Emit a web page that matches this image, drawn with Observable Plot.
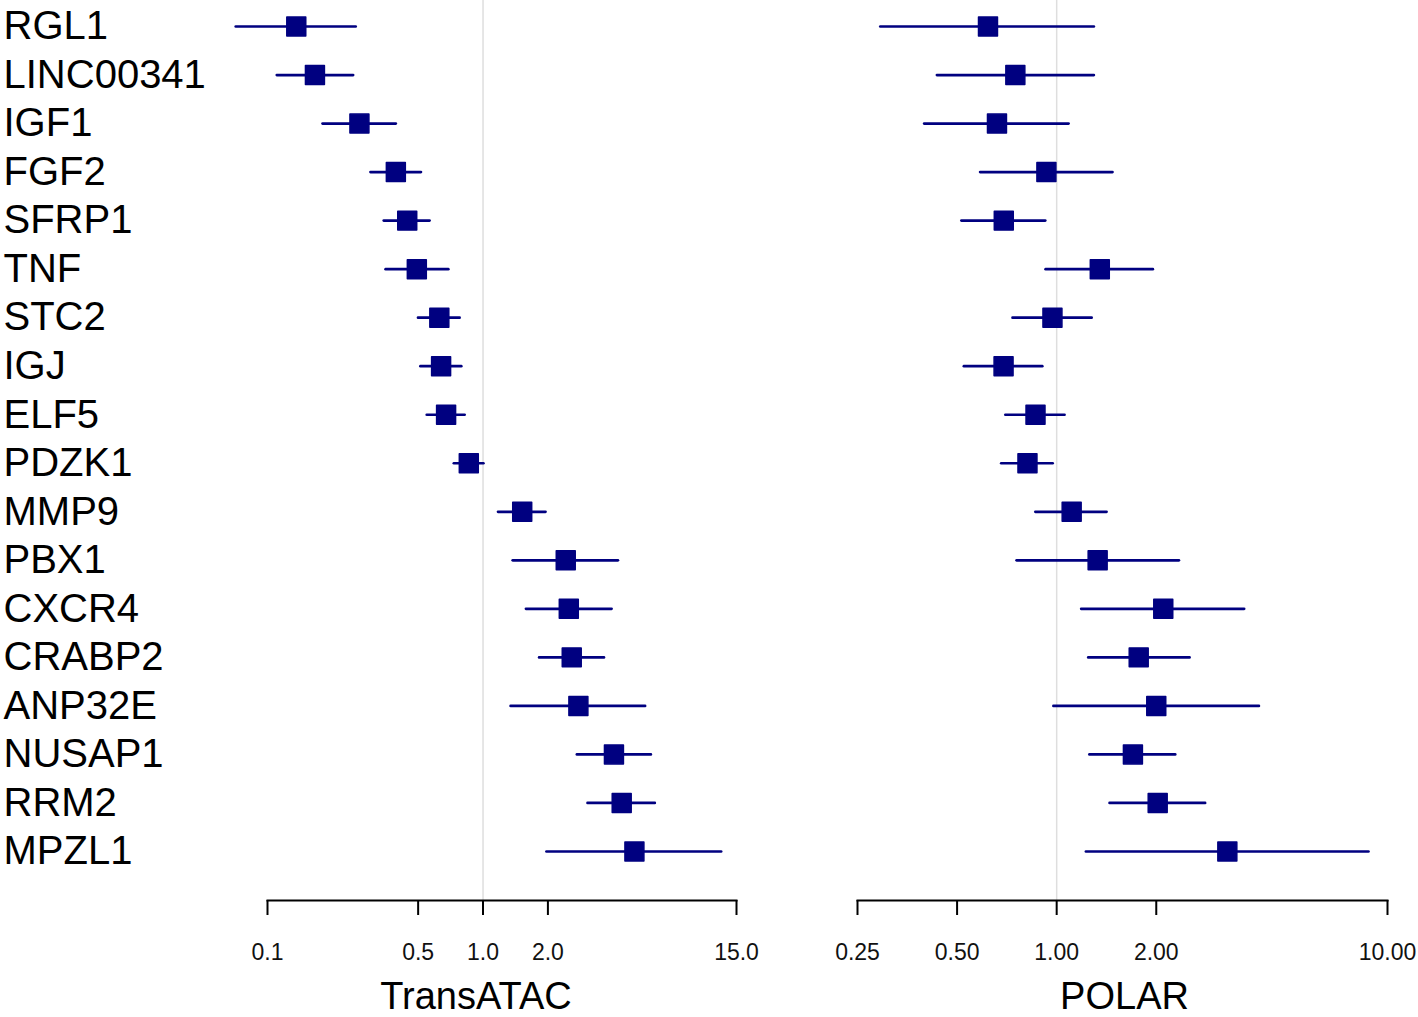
<!DOCTYPE html>
<html><head><meta charset="utf-8">
<script src="https://cdn.jsdelivr.net/npm/d3@7"></script>
<script src="https://cdn.jsdelivr.net/npm/@observablehq/plot@0.6"></script>
<style>
body{margin:0;background:#fff;}
#wrap{display:flex;width:1418px;height:1017px;overflow:hidden;}
</style></head><body><div id="wrap"></div>
<script>
const genes = ["RGL1","LINC00341","IGF1","FGF2","SFRP1","TNF","STC2","IGJ","ELF5","PDZK1","MMP9","PBX1","CXCR4","CRABP2","ANP32E","NUSAP1","RRM2","MPZL1"];

const transEst = [0.136,0.166,0.267,0.394,0.445,0.493,0.627,0.639,0.674,0.859,1.52,2.42,2.50,2.58,2.77,4.05,4.40,5.04];
const transLo  = [0.0716,0.111,0.181,0.302,0.348,0.355,0.502,0.515,0.551,0.736,1.18,1.38,1.59,1.83,1.35,2.74,3.07,1.98];
const transHi  = [0.258,0.251,0.396,0.518,0.568,0.694,0.783,0.797,0.826,1.01,1.96,4.25,3.97,3.66,5.68,6.04,6.30,12.8];

const polarEst = [0.620,0.750,0.660,0.931,0.692,1.35,0.971,0.691,0.863,0.816,1.11,1.33,2.10,1.77,2.00,1.70,2.02,3.28];
const polarLo  = [0.294,0.436,0.399,0.589,0.517,0.929,0.738,0.526,0.702,0.682,0.865,0.759,1.19,1.25,0.981,1.26,1.45,1.23];
const polarHi  = [1.30,1.30,1.09,1.48,0.927,1.96,1.28,0.908,1.06,0.976,1.42,2.35,3.70,2.53,4.10,2.29,2.82,8.79];

const transTicks = [0.1, 0.5, 1, 2, 15];
const polarTicks = [0.25, 0.5, 1, 2, 10];
const transDomain = [0.1, 15];
const polarDomain = [0.25, 10];

const navy = "#000080";

function panel({est, lo, hi, domain, ticks, fmt, label, width, marginLeft, marginRight, showY, labelDx}) {
  const data = genes.map((g, i) => ({gene: g, est: est[i], lo: lo[i], hi: hi[i]}));
  return Plot.plot({
    width, height: 1017, marginLeft, marginRight, marginTop: 0, marginBottom: 117,
    style: {fontFamily: "'Liberation Sans', Arial, sans-serif", background: "#fff", color: "#000", overflow: "visible"},
    x: {type: "log", domain, axis: null},
    y: {type: "point", domain: genes, range: [26, 851], padding: 0, round: false, axis: null},
    marks: [
      Plot.ruleX([1], {stroke: "#dedede", strokeWidth: 1.5}),
      Plot.frame({anchor: "bottom", stroke: "#000", strokeWidth: 2}),
      Plot.axisX({ticks, tickFormat: fmt, tickSize: 15, tickPadding: 28, fontSize: 23, strokeWidth: 2, label: null, fill: "#111"}),
      showY ? Plot.axisY({tickSize: 0, tickPadding: marginLeft - 3, textAnchor: "start", fontSize: 40, label: null, fill: "#000"}) : null,
      Plot.ruleY(data, {y: "gene", x1: "lo", x2: "hi", stroke: navy, strokeWidth: 2.7, strokeLinecap: "round"}),
      Plot.dot(data, {x: "est", y: "gene", symbol: "square", r: 10.7, fill: navy, stroke: navy, strokeWidth: 1.5, strokeLinejoin: "round"}),
      Plot.text([label], {frameAnchor: "bottom", dy: 108, dx: labelDx, fontSize: 38, lineAnchor: "bottom", fill: "#000"})
    ]
  });
}

const wrap = document.getElementById("wrap");
wrap.appendChild(panel({est: transEst, lo: transLo, hi: transHi, domain: transDomain, ticks: transTicks,
  fmt: d3.format(".1f"), label: "TransATAC", width: 790, marginLeft: 267, marginRight: 54, showY: true, labelDx: -26}));
wrap.appendChild(panel({est: polarEst, lo: polarLo, hi: polarHi, domain: polarDomain, ticks: polarTicks,
  fmt: d3.format(".2f"), label: "POLAR", width: 628, marginLeft: 67, marginRight: 31, showY: false, labelDx: 2}));
</script></body></html>
